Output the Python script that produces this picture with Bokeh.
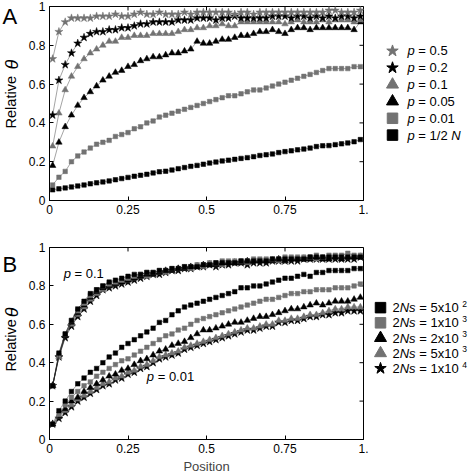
import math
from bokeh.plotting import figure
from bokeh.layouts import column, row
from bokeh.models import Range1d, Label, FixedTicker
from bokeh.core.properties import value
from bokeh.embed import file_html
from bokeh.resources import INLINE

FONT = "Liberation Sans"
BLACK = "#000000"
GRAY = "#727272"

# ---------------- data ----------------
position = [0.01, 0.03, 0.05, 0.07, 0.09, 0.11, 0.13, 0.15, 0.17, 0.19,
            0.21, 0.23, 0.25, 0.27, 0.29, 0.31, 0.33, 0.35, 0.37, 0.39,
            0.41, 0.43, 0.45, 0.47, 0.49, 0.51, 0.53, 0.55, 0.57, 0.59,
            0.61, 0.63, 0.65, 0.67, 0.69, 0.71, 0.73, 0.75, 0.77, 0.79,
            0.81, 0.83, 0.85, 0.87, 0.89, 0.91, 0.93, 0.95, 0.97, 0.99]

# Panel A
a_p05 = [0.73, 0.87, 0.92, 0.94, 0.94, 0.94, 0.94, 0.95, 0.95, 0.95,
         0.96, 0.95, 0.95, 0.96, 0.97, 0.96, 0.96, 0.97, 0.96, 0.96,
         0.96, 0.97, 0.96, 0.97, 0.97, 0.97, 0.97, 0.97, 0.97, 0.96,
         0.97, 0.97, 0.96, 0.97, 0.97, 0.97, 0.97, 0.97, 0.97, 0.97,
         0.97, 0.97, 0.97, 0.97, 0.98, 0.98, 0.97, 0.97, 0.97, 0.98]
a_p02 = [0.44, 0.62, 0.70, 0.76, 0.81, 0.84, 0.86, 0.87, 0.87, 0.88,
         0.88, 0.89, 0.89, 0.90, 0.91, 0.91, 0.92, 0.92, 0.92, 0.92,
         0.93, 0.93, 0.93, 0.94, 0.94, 0.94, 0.93, 0.94, 0.94, 0.95,
         0.94, 0.94, 0.94, 0.94, 0.94, 0.95, 0.95, 0.95, 0.94, 0.95,
         0.95, 0.94, 0.95, 0.94, 0.95, 0.94, 0.95, 0.95, 0.94, 0.95]
a_p01 = [0.28, 0.45, 0.57, 0.64, 0.69, 0.73, 0.76, 0.78, 0.80, 0.82,
         0.82, 0.84, 0.84, 0.85, 0.85, 0.85, 0.86, 0.86, 0.86, 0.86,
         0.87, 0.88, 0.88, 0.89, 0.89, 0.90, 0.90, 0.91, 0.90, 0.90,
         0.92, 0.92, 0.92, 0.92, 0.92, 0.92, 0.92, 0.91, 0.92, 0.93,
         0.92, 0.92, 0.92, 0.93, 0.92, 0.93, 0.93, 0.93, 0.92, 0.93]
a_p005 = [0.18, 0.30, 0.38, 0.44, 0.49, 0.53, 0.56, 0.59, 0.62, 0.64,
          0.66, 0.67, 0.69, 0.70, 0.72, 0.73, 0.74, 0.74, 0.75, 0.76,
          0.76, 0.77, 0.78, 0.82, 0.81, 0.81, 0.82, 0.83, 0.83, 0.84,
          0.85, 0.85, 0.86, 0.87, 0.87, 0.88, 0.87, 0.86, 0.88, 0.89,
          0.89, 0.88, 0.89, 0.89, 0.89, 0.89, 0.89, 0.89, 0.88, 0.92]
a_p001 = [0.08, 0.12, 0.15, 0.20, 0.23, 0.25, 0.27, 0.29, 0.30, 0.31,
          0.33, 0.34, 0.35, 0.37, 0.38, 0.40, 0.41, 0.43, 0.44, 0.45,
          0.46, 0.47, 0.48, 0.49, 0.50, 0.51, 0.52, 0.53, 0.54, 0.54,
          0.55, 0.56, 0.57, 0.57, 0.58, 0.59, 0.60, 0.61, 0.62, 0.63,
          0.64, 0.65, 0.66, 0.67, 0.68, 0.68, 0.68, 0.68, 0.69, 0.69]
a_p2n = [0.055, 0.060, 0.065, 0.070, 0.075, 0.080, 0.086, 0.091, 0.096, 0.101,
         0.107, 0.113, 0.119, 0.125, 0.130, 0.135, 0.142, 0.148, 0.151, 0.157,
         0.164, 0.170, 0.176, 0.181, 0.187, 0.193, 0.198, 0.204, 0.208, 0.212,
         0.217, 0.221, 0.226, 0.232, 0.236, 0.240, 0.247, 0.252, 0.256, 0.261,
         0.265, 0.270, 0.278, 0.282, 0.283, 0.288, 0.292, 0.297, 0.303, 0.314]

# Panel B, p = 0.1 group
b_hi_5e2 = [0.28, 0.45, 0.55, 0.62, 0.68, 0.72, 0.76, 0.78, 0.80, 0.82,
            0.83, 0.84, 0.85, 0.86, 0.86, 0.87, 0.87, 0.88, 0.88, 0.89,
            0.89, 0.90, 0.90, 0.90, 0.91, 0.91, 0.92, 0.92, 0.92, 0.92,
            0.93, 0.93, 0.93, 0.93, 0.93, 0.94, 0.94, 0.94, 0.94, 0.94,
            0.94, 0.95, 0.95, 0.95, 0.95, 0.95, 0.95, 0.95, 0.95, 0.95]
b_hi_1e3 = [0.28, 0.44, 0.55, 0.62, 0.67, 0.71, 0.75, 0.78, 0.80, 0.81,
            0.82, 0.83, 0.84, 0.85, 0.86, 0.87, 0.87, 0.88, 0.88, 0.89,
            0.89, 0.90, 0.90, 0.91, 0.91, 0.92, 0.92, 0.93, 0.93, 0.93,
            0.93, 0.93, 0.94, 0.94, 0.94, 0.94, 0.94, 0.95, 0.95, 0.95,
            0.95, 0.95, 0.96, 0.95, 0.96, 0.96, 0.96, 0.97, 0.96, 0.96]
b_hi_2e3 = [0.28, 0.44, 0.54, 0.61, 0.66, 0.70, 0.74, 0.77, 0.79, 0.80,
            0.81, 0.82, 0.83, 0.84, 0.85, 0.86, 0.86, 0.87, 0.88, 0.88,
            0.89, 0.89, 0.90, 0.90, 0.91, 0.91, 0.91, 0.92, 0.92, 0.92,
            0.92, 0.93, 0.93, 0.93, 0.93, 0.93, 0.94, 0.93, 0.94, 0.94,
            0.94, 0.94, 0.95, 0.94, 0.94, 0.95, 0.94, 0.95, 0.95, 0.95]
b_hi_5e3 = [0.28, 0.43, 0.54, 0.60, 0.65, 0.69, 0.73, 0.76, 0.78, 0.80,
            0.81, 0.82, 0.83, 0.84, 0.85, 0.85, 0.86, 0.87, 0.87, 0.88,
            0.89, 0.89, 0.89, 0.90, 0.90, 0.91, 0.91, 0.91, 0.92, 0.92,
            0.92, 0.92, 0.93, 0.93, 0.93, 0.93, 0.93, 0.93, 0.94, 0.94,
            0.94, 0.94, 0.94, 0.94, 0.95, 0.95, 0.95, 0.95, 0.95, 0.95]
b_hi_1e4 = [0.28, 0.43, 0.53, 0.59, 0.64, 0.68, 0.72, 0.75, 0.78, 0.79,
            0.80, 0.81, 0.82, 0.83, 0.84, 0.85, 0.86, 0.86, 0.87, 0.88,
            0.88, 0.89, 0.89, 0.90, 0.90, 0.91, 0.90, 0.91, 0.91, 0.92,
            0.92, 0.91, 0.92, 0.92, 0.92, 0.93, 0.93, 0.93, 0.93, 0.93,
            0.94, 0.94, 0.94, 0.94, 0.94, 0.94, 0.94, 0.94, 0.94, 0.95]

# Panel B, p = 0.01 group
b_lo_5e2 = [0.08, 0.15, 0.20, 0.25, 0.29, 0.32, 0.35, 0.37, 0.40, 0.43,
            0.45, 0.48, 0.50, 0.52, 0.54, 0.56, 0.58, 0.61, 0.62, 0.65,
            0.67, 0.69, 0.70, 0.71, 0.72, 0.73, 0.74, 0.75, 0.76, 0.77,
            0.79, 0.79, 0.80, 0.80, 0.81, 0.82, 0.83, 0.84, 0.84, 0.85,
            0.86, 0.85, 0.87, 0.87, 0.88, 0.88, 0.88, 0.88, 0.89, 0.89]
b_lo_1e3 = [0.08, 0.13, 0.18, 0.22, 0.25, 0.28, 0.30, 0.33, 0.35, 0.37,
            0.39, 0.41, 0.42, 0.44, 0.46, 0.48, 0.50, 0.52, 0.54, 0.55,
            0.57, 0.58, 0.60, 0.62, 0.63, 0.64, 0.65, 0.66, 0.67, 0.68,
            0.69, 0.70, 0.71, 0.72, 0.73, 0.73, 0.74, 0.75, 0.76, 0.76,
            0.77, 0.77, 0.78, 0.78, 0.78, 0.79, 0.79, 0.79, 0.80, 0.81]
b_lo_2e3 = [0.08, 0.12, 0.16, 0.20, 0.22, 0.25, 0.27, 0.29, 0.31, 0.33,
            0.34, 0.36, 0.37, 0.39, 0.41, 0.42, 0.44, 0.46, 0.47, 0.49,
            0.50, 0.51, 0.53, 0.55, 0.57, 0.57, 0.58, 0.59, 0.60, 0.61,
            0.61, 0.62, 0.63, 0.64, 0.64, 0.65, 0.66, 0.67, 0.68, 0.68,
            0.69, 0.70, 0.71, 0.70, 0.71, 0.72, 0.72, 0.72, 0.73, 0.74]
b_lo_5e3 = [0.08, 0.12, 0.15, 0.18, 0.21, 0.23, 0.25, 0.27, 0.29, 0.30,
            0.32, 0.33, 0.35, 0.36, 0.38, 0.39, 0.41, 0.43, 0.44, 0.45,
            0.46, 0.48, 0.49, 0.50, 0.51, 0.52, 0.53, 0.54, 0.55, 0.56,
            0.57, 0.58, 0.58, 0.59, 0.60, 0.60, 0.62, 0.62, 0.63, 0.63,
            0.64, 0.65, 0.65, 0.66, 0.67, 0.68, 0.68, 0.69, 0.69, 0.69]
b_lo_1e4 = [0.08, 0.11, 0.14, 0.17, 0.20, 0.22, 0.24, 0.26, 0.28, 0.29,
            0.31, 0.32, 0.34, 0.35, 0.37, 0.38, 0.40, 0.42, 0.43, 0.44,
            0.45, 0.47, 0.48, 0.49, 0.50, 0.51, 0.52, 0.53, 0.54, 0.55,
            0.56, 0.57, 0.57, 0.58, 0.59, 0.59, 0.61, 0.61, 0.62, 0.62,
            0.63, 0.64, 0.64, 0.65, 0.65, 0.66, 0.66, 0.67, 0.67, 0.67]

x_ticks = [0, 0.25, 0.5, 0.75, 1]
x_tick_labels = ["0", "0.25", "0.5", "0.75", "1."]
y_ticks = [0, 0.2, 0.4, 0.6, 0.8, 1]
y_tick_labels = ["0", "0.2", "0.4", "0.6", "0.8", "1"]

# legend texts: list of (text, style) segments; superscript marked with "sup"
legend_A = [
    [("p", "italic"), (" = 0.5", "normal")],
    [("p", "italic"), (" = 0.2", "normal")],
    [("p", "italic"), (" = 0.1", "normal")],
    [("p", "italic"), (" = 0.05", "normal")],
    [("p", "italic"), (" = 0.01", "normal")],
    [("p", "italic"), (" = 1/2 ", "normal"), ("N", "italic")],
]
legend_B = [
    [("2", "normal"), ("Ns", "italic"), (" = 5x10 ", "normal"), ("2", "sup")],
    [("2", "normal"), ("Ns", "italic"), (" = 1x10 ", "normal"), ("3", "sup")],
    [("2", "normal"), ("Ns", "italic"), (" = 2x10 ", "normal"), ("3", "sup")],
    [("2", "normal"), ("Ns", "italic"), (" = 5x10 ", "normal"), ("3", "sup")],
    [("2", "normal"), ("Ns", "italic"), (" = 1x10 ", "normal"), ("4", "sup")],
]

# series style: (marker, color, size)
STY = {
    "star_g": ("star", GRAY, 8.5),
    "star_k": ("star", BLACK, 8.5),
    "tri_g": ("triangle", GRAY, 6.5),
    "tri_k": ("triangle", BLACK, 6.5),
    "sq_g": ("square", GRAY, 4.5),
    "sq_k": ("square", BLACK, 4.5),
}

# Arial/Liberation advance widths (per 1000 em)
ADV = {c: 556 for c in "0123456789"}
ADV.update({".": 278, " ": 278, "=": 584, "p": 556, "N": 722, "s": 500,
            "x": 500, "/": 278})


def text_w(s, size):
    return sum(ADV.get(c, 556) for c in s) * size / 1000.0


# layout (pixels)
FRAME_W, FRAME_H = 314, 194
LEFT_W = 20                 # width of the column holding panel letter + y label
BORDER_L = 29               # frame starts at 49
BORDER_R = 7
MAIN_W = BORDER_L + FRAME_W + BORDER_R    # 350
LEG_W = 474 - LEFT_W - MAIN_W             # 104
A_TOP, A_BOT = 6, 27
B_TOP, B_BOT = 20, 35
HA = A_TOP + FRAME_H + A_BOT               # 227
HB = B_TOP + FRAME_H + B_BOT               # 249


def style_main(p, show_xlabel):
    p.grid.visible = False
    p.outline_line_color = BLACK
    p.outline_line_width = 1
    p.background_fill_color = "white"
    p.border_fill_color = "white"
    for ax in list(p.xaxis) + list(p.yaxis):
        ax.major_tick_in = 4
        ax.major_tick_out = 0
        ax.minor_tick_in = 0
        ax.minor_tick_out = 0
        ax.axis_line_color = BLACK
        ax.major_tick_line_color = BLACK
        ax.major_label_text_font = FONT
        ax.major_label_text_font_size = "12px"
        ax.major_label_text_color = BLACK
    p.xaxis.ticker = FixedTicker(ticks=x_ticks)
    p.xaxis.major_label_overrides = {t: l for t, l in zip(x_ticks, x_tick_labels)}
    p.xaxis.major_label_standoff = 4
    p.yaxis.ticker = FixedTicker(ticks=y_ticks)
    p.yaxis.major_label_overrides = {t: l for t, l in zip(y_ticks, y_tick_labels)}
    p.yaxis.major_label_standoff = 4
    if show_xlabel:
        p.xaxis.axis_label = "Position"
        p.xaxis.axis_label_text_font = FONT
        p.xaxis.axis_label_text_font_style = "normal"
        p.xaxis.axis_label_text_font_size = "13px"
        p.xaxis.axis_label_standoff = 3
    # small inward ticks on the right and top frame edges
    tx = 4.0 / FRAME_W
    ty = 4.0 / FRAME_H
    p.segment(x0=[1] * len(y_ticks), y0=y_ticks, x1=[1 - tx] * len(y_ticks), y1=y_ticks,
              line_color=BLACK, line_width=1)
    p.segment(x0=x_ticks, y0=[1] * len(x_ticks), x1=x_ticks, y1=[1 - ty] * len(x_ticks),
              line_color=BLACK, line_width=1)


def side_fig(height, letter, letter_y, rel_y, theta_y):
    f = figure(width=LEFT_W, height=height, x_range=Range1d(0, LEFT_W), y_range=Range1d(0, height),
               output_backend="svg", toolbar_location=None, min_border=0,
               x_axis_location=None, y_axis_location=None)
    f.grid.visible = False
    f.outline_line_color = None
    f.background_fill_color = "white"
    f.border_fill_color = "white"
    f.text([2], [height - letter_y], text=[letter], text_font=value(FONT), text_font_size="22px",
           text_align="left", text_baseline="middle", text_color=BLACK)
    f.text([10], [height - rel_y], text=["Relative"], angle=math.pi / 2,
           text_font=value(FONT), text_font_size="14.5px",
           text_align="center", text_baseline="middle", text_color=BLACK)
    f.text([11], [height - theta_y], text=["θ"], angle=math.pi / 2,
           text_font=value(FONT), text_font_size="18px", text_font_style="italic",
           text_align="center", text_baseline="middle", text_color=BLACK)
    return f


def series(p, ys, key, line_color="#666666", lw=0.6):
    m, c, s = STY[key]
    p.line(position, ys, line_color=line_color, line_width=lw)
    p.scatter(position, ys, marker=m, size=s, fill_color=c, line_color=c, line_width=0.5)


def make_legend(height, items, keys, rows_y, mx, tx, size=13):
    lf = figure(width=LEG_W, height=height, x_range=Range1d(0, LEG_W), y_range=Range1d(height, 0),
                output_backend="svg", toolbar_location=None, min_border=0,
                x_axis_location=None, y_axis_location=None)
    lf.grid.visible = False
    lf.outline_line_color = None
    lf.background_fill_color = "white"
    lf.border_fill_color = "white"
    for segs, key, yy in zip(items, keys, rows_y):
        m, c, s = STY[key]
        big = 12 if m != "square" else 10.5
        lf.scatter([mx], [yy], marker=m, size=big, fill_color=c, line_color=c)
        x = tx
        for txt, st in segs:
            fs = 8.5 if st == "sup" else size
            lead = len(txt) - len(txt.lstrip(" "))
            body = txt.strip(" ")
            x += text_w(" " * lead, fs)
            if st == "sup":
                lf.text([x], [yy - 5], text=[body], text_font=value(FONT), text_font_size=f"{fs}px",
                        text_baseline="middle", text_align="left", text_color=BLACK)
            else:
                lf.text([x], [yy], text=[body], text_font=value(FONT), text_font_size=f"{fs}px",
                        text_font_style=st, text_baseline="middle", text_align="left",
                        text_color=BLACK)
            x += text_w(txt.lstrip(" "), fs)
    return lf


def new_main(height, top, bottom):
    return figure(width=MAIN_W, height=height, x_range=Range1d(0, 1), y_range=Range1d(0, 1),
                  output_backend="svg", toolbar_location=None,
                  min_border_left=BORDER_L, min_border_right=BORDER_R,
                  min_border_top=top, min_border_bottom=bottom)


# ---------------- Panel A ----------------
pA = new_main(HA, A_TOP, A_BOT)
style_main(pA, False)
series(pA, a_p2n, "sq_k")
series(pA, a_p001, "sq_g")
series(pA, a_p005, "tri_k")
series(pA, a_p01, "tri_g")
series(pA, a_p02, "star_k")
series(pA, a_p05, "star_g")
sideA = side_fig(HA, "A", 12, 112, 68)

rowsA = [52 + 19.7 * k for k in range(len(legend_A))]
legA = make_legend(HA, legend_A, ["star_g", "star_k", "tri_g", "tri_k", "sq_g", "sq_k"],
                   rowsA, 22, 37)

# ---------------- Panel B ----------------
pB = new_main(HB, B_TOP, B_BOT)
style_main(pB, True)
series(pB, b_lo_1e4, "star_k")
series(pB, b_lo_5e3, "tri_g")
series(pB, b_lo_2e3, "tri_k")
series(pB, b_lo_1e3, "sq_g")
series(pB, b_lo_5e2, "sq_k")
series(pB, b_hi_1e4, "star_k", line_color="#222222")
series(pB, b_hi_5e3, "tri_g", line_color="#222222")
series(pB, b_hi_2e3, "tri_k", line_color="#222222")
series(pB, b_hi_1e3, "sq_g", line_color="#222222")
series(pB, b_hi_5e2, "sq_k", line_color="#222222")
sideB = side_fig(HB, "B", 22, 127, 84)
for (lx, ly, lt) in [(0.045, 0.865, "0.1"), (0.31, 0.33, "0.01")]:
    pB.add_layout(Label(x=lx, y=ly, text="p", text_font=FONT, text_font_size="13px",
                        text_font_style="italic", text_baseline="middle", text_color=BLACK))
    pB.add_layout(Label(x=lx, y=ly, x_offset=text_w("p ", 13), text="= " + lt,
                        text_font=FONT, text_font_size="13px",
                        text_baseline="middle", text_color=BLACK))

rowsB = [78 + 19.7 * k for k in range(len(legend_B))]
legB = make_legend(HB, legend_B, ["sq_k", "sq_g", "tri_k", "tri_g", "star_k"],
                   rowsB, 10, 22)

layout = column(row(sideA, pA, legA), row(sideB, pB, legB))
open("out.html", "w").write(file_html(layout, INLINE))
